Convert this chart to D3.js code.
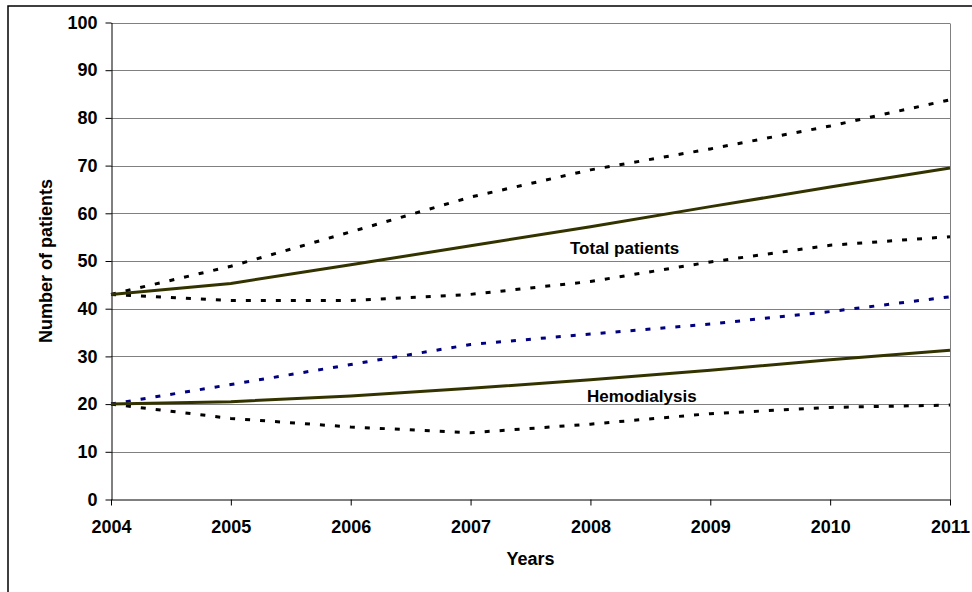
<!DOCTYPE html>
<html>
<head>
<meta charset="utf-8">
<script src="https://cdn.jsdelivr.net/npm/d3@7"></script>
<style>
  html, body { margin: 0; padding: 0; background: #fff; }
  svg { display: block; font-family: "Liberation Sans", Arial, sans-serif; }
</style>
</head>
<body>
<svg id="chart" width="972" height="592"></svg>
<script>
// Years on the horizontal axis
const years = [2004, 2005, 2006, 2007, 2008, 2009, 2010, 2011];

// Total patients: projection with upper and lower bounds
const totalMid   = [43, 45.3, 49.2, 53.2, 57.2, 61.4, 65.5, 69.5];
const totalHigh  = [43, 48.9, 56.1, 63.4, 69.1, 73.5, 78.3, 83.8];
const totalLow   = [43, 41.7, 41.7, 43.0, 45.7, 49.8, 53.3, 55.1];

// Hemodialysis: projection with upper and lower bounds
const hemoMid    = [20, 20.5, 21.7, 23.3, 25.1, 27.1, 29.3, 31.3];
const hemoHigh   = [20, 24.1, 28.3, 32.5, 34.7, 36.8, 39.4, 42.5];
const hemoLow    = [20, 17.0, 15.2, 14.0, 15.8, 18.0, 19.3, 19.8];

const yTicks = [0, 10, 20, 30, 40, 50, 60, 70, 80, 90, 100];

const svg = d3.select("#chart");
const plotLeft = 111, plotRight = 950, plotTop = 22.5, plotBottom = 499.5;
const fontFamily = "'Liberation Sans', Arial, sans-serif";

const x = d3.scaleLinear().domain([2004, 2011]).range([plotLeft, plotRight]);
const y = d3.scaleLinear().domain([0, 100]).range([plotBottom, plotTop]);

// outer frame
svg.append("rect")
  .attr("x", 8).attr("y", 6).attr("width", 1000).attr("height", 700)
  .attr("fill", "none").attr("stroke", "#000").attr("stroke-width", 1.5);

// horizontal gridlines
svg.append("g").selectAll("line").data(yTicks.filter(d => d > 0)).join("line")
  .attr("x1", plotLeft).attr("x2", plotRight)
  .attr("y1", d => Math.round(y(d)) + 0.5).attr("y2", d => Math.round(y(d)) + 0.5)
  .attr("stroke", "#808080").attr("stroke-width", 1);

// right edge of plot area
svg.append("line")
  .attr("x1", plotRight + 0.5).attr("x2", plotRight + 0.5)
  .attr("y1", Math.round(y(100)) + 0.5).attr("y2", plotBottom)
  .attr("stroke", "#808080").attr("stroke-width", 1);

// y axis
const yAxis = d3.axisLeft(y).tickValues(yTicks).tickSize(6).tickPadding(8).tickSizeOuter(0);
const gy = svg.append("g").attr("transform", `translate(${plotLeft + 0.5},0)`).call(yAxis);
gy.select(".domain").attr("stroke", "#000");
gy.selectAll(".tick line").attr("stroke", "#000");
gy.selectAll(".tick text")
  .attr("font-size", 18).attr("font-weight", "bold").attr("fill", "#000")
  .attr("font-family", fontFamily);

// x axis
const xAxis = d3.axisBottom(x).tickValues(years).tickFormat(d3.format("d"))
  .tickSize(6).tickPadding(15).tickSizeOuter(0);
const gx = svg.append("g").attr("transform", `translate(0,${Math.round(plotBottom) - 0.5})`).call(xAxis);
gx.select(".domain").attr("stroke", "#000");
gx.selectAll(".tick line").attr("stroke", "#000");
gx.selectAll(".tick text")
  .attr("font-size", 18).attr("font-weight", "bold").attr("fill", "#000")
  .attr("font-family", fontFamily);

// axis titles
svg.append("text")
  .attr("x", (plotLeft + plotRight) / 2).attr("y", 565)
  .attr("text-anchor", "middle").attr("font-size", 18).attr("font-weight", "bold")
  .text("Years");
svg.append("text")
  .attr("transform", `translate(52,${(plotTop + plotBottom) / 2}) rotate(-90)`)
  .attr("text-anchor", "middle").attr("font-size", 18).attr("font-weight", "bold")
  .text("Number of patients");

// series
const line = d3.line().x((d, i) => x(years[i])).y(d => y(d));
const series = [
  { values: totalHigh, color: "#000", dash: "5,10" },
  { values: totalLow,  color: "#000", dash: "5,10" },
  { values: totalMid,  color: "#333300", dash: null },
  { values: hemoHigh,  color: "#000080", dash: "5,10" },
  { values: hemoLow,   color: "#000", dash: "5,10" },
  { values: hemoMid,   color: "#333300", dash: null }
];
svg.append("g").selectAll("path").data(series).join("path")
  .attr("d", d => line(d.values))
  .attr("fill", "none")
  .attr("stroke", d => d.color)
  .attr("stroke-width", 3)
  .attr("stroke-dasharray", d => d.dash);

// series labels
svg.append("text").attr("x", 570).attr("y", 254)
  .attr("font-size", 17).attr("font-weight", "bold").text("Total patients");
svg.append("text").attr("x", 587).attr("y", 402)
  .attr("font-size", 17).attr("font-weight", "bold").text("Hemodialysis");
</script>
</body>
</html>
